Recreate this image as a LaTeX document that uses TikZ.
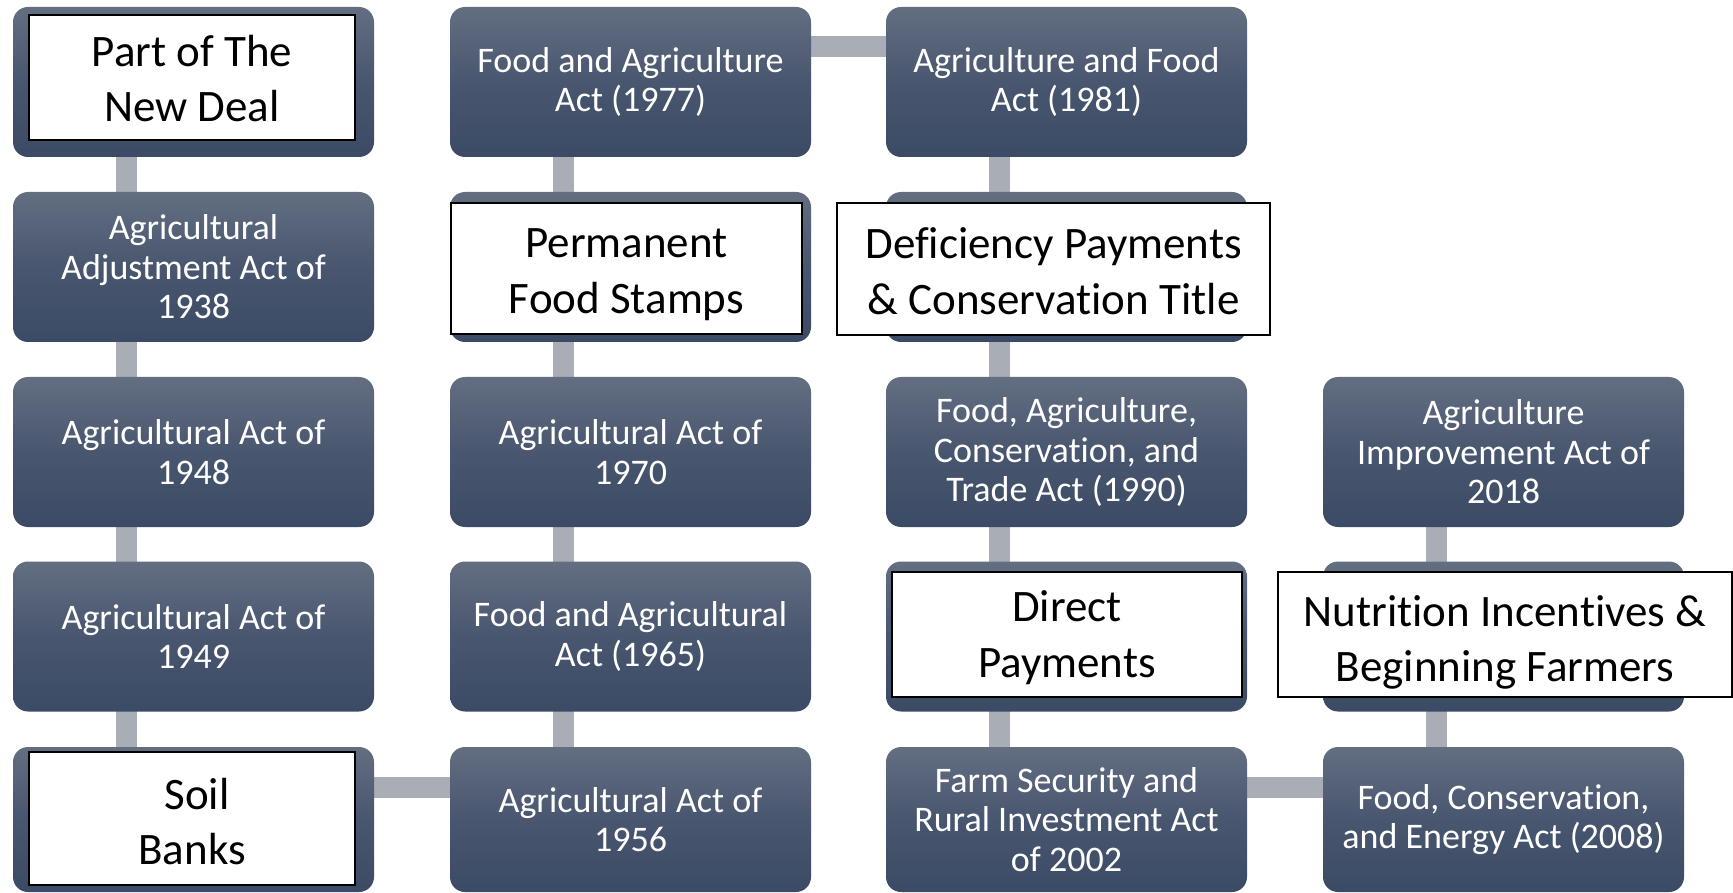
\documentclass[tikz,border=0pt]{standalone}
\usepackage{fontspec}
\setmainfont{Carlito}[Ligatures=NoCommon, Contextuals=NoAlternate]
\definecolor{btop}{RGB}{99,110,129}
\definecolor{bmid}{RGB}{72,86,111}
\definecolor{bbot}{RGB}{60,75,101}
\definecolor{conncol}{RGB}{169,173,181}
\pgfdeclarelayer{bg}
\pgfsetlayers{bg,main}
\tikzset{
  actbox/.style={rounded corners=15pt, top color=btop, bottom color=bbot, middle color=bmid,
    minimum width=361pt, minimum height=150pt, inner sep=0pt, text=white, align=center,
    font=\fontsize{36}{39.5}\selectfont},
  lastrow/.style={minimum height=145pt},
  notebox/.style={draw=black, line width=1.6pt, fill=white, inner sep=0pt},
  notetext/.style={inner sep=0pt, align=center, text=black, font=\fontsize{45}{55.5}\selectfont},
  conn/.style={draw=conncol, line width=21pt}
}
\begin{document}
\begin{tikzpicture}[x=1pt,y=-1pt]
\useasboundingbox (0,0) rectangle (1733,893);
\clip (0,0) rectangle (1733,893);
% column 1
\node[actbox] (a1) at (193.5,82) {};
\node[actbox] (a2) at (193.5,267) {Agricultural\\Adjustment Act of\\1938};
\node[actbox] (a3) at (193.5,452) {Agricultural Act of\\1948};
\node[actbox] (a4) at (193.5,636.5) {Agricultural Act of\\1949};
\node[actbox,lastrow] (a5) at (193.5,819.5) {};
% column 2
\node[actbox] (b1) at (630.5,82) {Food and Agriculture\\Act (1977)};
\node[actbox] (b2) at (630.5,267) {};
\node[actbox] (b3) at (630.5,452) {Agricultural Act of\\1970};
\node[actbox] (b4) at (630.5,636.5) {Food and Agricultural\\Act (1965)};
\node[actbox,lastrow] (b5) at (630.5,819.5) {Agricultural Act of\\1956};
% column 3
\node[actbox] (c1) at (1066.5,82) {Agriculture and Food\\Act (1981)};
\node[actbox] (c2) at (1066.5,267) {};
\node[actbox] (c3) at (1066.5,452) {Food, Agriculture,\\Conservation, and\\Trade Act (1990)};
\node[actbox] (c4) at (1066.5,636.5) {};
\node[actbox,lastrow] (c5) at (1066.5,819.5) {Farm Security and\\Rural Investment Act\\of 2002};
% column 4
\node[actbox] (d3) at (1503.5,452) {Agriculture\\Improvement Act of\\2018};
\node[actbox] (d4) at (1503.5,636.5) {};
\node[actbox,lastrow] (d5) at (1503.5,819.5) {Food, Conservation,\\and Energy Act (2008)};
% connectors
\begin{pgfonlayer}{bg}
\fill[white] (0,0) rectangle (1733,893);
\draw[conn] ([xshift=-67.5pt]a1.center) -- ([xshift=-67.5pt]a2.center);
\draw[conn] ([xshift=-67.5pt]a2.center) -- ([xshift=-67.5pt]a3.center);
\draw[conn] ([xshift=-67.5pt]a3.center) -- ([xshift=-67.5pt]a4.center);
\draw[conn] ([xshift=-67.5pt]a4.center) -- ([xshift=-67.5pt]a5.center);
\draw[conn] ([yshift=32.5pt]a5.center) -- ([yshift=32.5pt]b5.center);
\draw[conn] ([xshift=-67.5pt]b5.center) -- ([xshift=-67.5pt]b4.center);
\draw[conn] ([xshift=-67.5pt]b4.center) -- ([xshift=-67.5pt]b3.center);
\draw[conn] ([xshift=-67.5pt]b3.center) -- ([xshift=-67.5pt]b2.center);
\draw[conn] ([xshift=-67.5pt]b2.center) -- ([xshift=-67.5pt]b1.center);
\draw[conn] ([yshift=35pt]b1.center) -- ([yshift=35pt]c1.center);
\draw[conn] ([xshift=-67.5pt]c1.center) -- ([xshift=-67.5pt]c2.center);
\draw[conn] ([xshift=-67.5pt]c2.center) -- ([xshift=-67.5pt]c3.center);
\draw[conn] ([xshift=-67.5pt]c3.center) -- ([xshift=-67.5pt]c4.center);
\draw[conn] ([xshift=-67.5pt]c4.center) -- ([xshift=-67.5pt]c5.center);
\draw[conn] ([yshift=32.5pt]c5.center) -- ([yshift=32.5pt]d5.center);
\draw[conn] ([xshift=-67.5pt]d5.center) -- ([xshift=-67.5pt]d4.center);
\draw[conn] ([xshift=-67.5pt]d4.center) -- ([xshift=-67.5pt]d3.center);
\end{pgfonlayer}
% white notes
\node[notebox, minimum width=326pt, minimum height=125pt,
  label={[notetext, yshift=-1pt]center:{Part of The\\New Deal}}] (n1) at (192,77.5) {};
\node[notebox, minimum width=351pt, minimum height=131pt,
  label={[notetext, yshift=-6pt]center:{Permanent\\Food Stamps}}] (n2) at (626.5,268.5) {};
\node[notebox, minimum width=433pt, minimum height=132pt,
  label={[notetext, yshift=-2pt]center:{Deficiency Payments\\\& Conservation Title}}] (n3) at (1053.5,269) {};
\node[notebox, minimum width=350pt, minimum height=125pt,
  label={[notetext, yshift=-3pt]center:{Direct\\Payments}}] (n4) at (1067,634.5) {};
\node[notebox, minimum width=454pt, minimum height=125pt,
  label={[notetext, yshift=-8pt]center:{Nutrition Incentives \&\\Beginning Farmers}}] (n5) at (1505,634.5) {};
\node[notebox, minimum width=326pt, minimum height=133pt,
  label={[notetext, yshift=-3pt]center:{\hspace*{10pt}Soil\\Banks}}] (n6) at (192,818.5) {};
\end{tikzpicture}
\end{document}
